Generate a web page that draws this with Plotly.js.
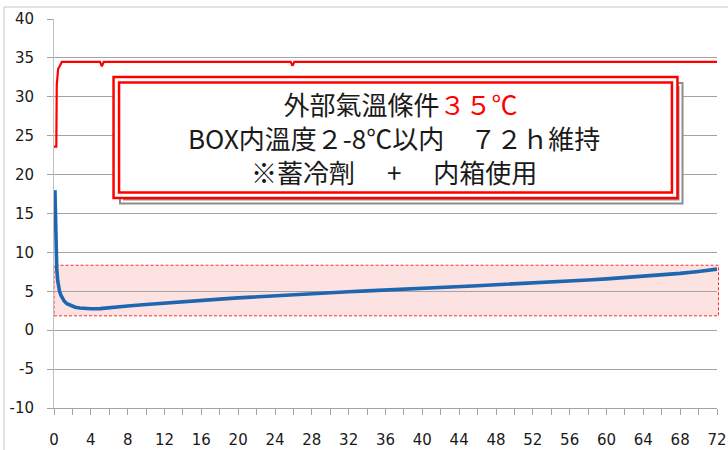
<!DOCTYPE html>
<html>
<head>
<meta charset="utf-8">
<script src="https://cdn.plot.ly/plotly-3.0.1.min.js"></script>
<style>html,body{margin:0;padding:0;background:#fff;}#chart{width:728px;height:450px;}</style>
</head>
<body>
<div id="chart"></div>
<script>
// ---- data ----
var outsideHours = [0, 0.25, 0.3, 0.45, 0.6, 0.85, 5.0, 5.2, 5.4, 25.7, 25.9, 26.1, 72];
var outsideTemp  = [23.6, 23.6, 31.5, 33.6, 33.9, 34.5, 34.5, 33.9, 34.5, 34.5, 34.0, 34.5, 34.5];

var boxHours = [0.1, 0.15, 0.22, 0.3, 0.4, 0.5, 0.6, 0.75, 0.9, 1.1, 1.4, 1.8, 2.3, 2.8, 3.5, 4, 5, 6, 7, 8, 10, 12, 14, 16, 18, 20, 22, 24, 26, 28, 30, 32, 34, 36, 38, 40, 42, 44, 45.5, 46, 48, 50, 52, 54, 56, 58, 60, 62, 64, 66, 68, 70, 72];
var boxTemp  = [18.0, 14.0, 10.0, 7.8, 6.4, 5.6, 5.0, 4.5, 4.1, 3.75, 3.4, 3.15, 2.95, 2.85, 2.78, 2.75, 2.77, 2.85, 2.95, 3.1, 3.3, 3.5, 3.65, 3.85, 4.0, 4.15, 4.3, 4.45, 4.6, 4.7, 4.85, 4.95, 5.05, 5.15, 5.25, 5.35, 5.45, 5.55, 5.6, 5.72, 5.85, 5.95, 6.05, 6.15, 6.3, 6.45, 6.6, 6.75, 6.9, 7.05, 7.3, 7.55, 7.85];

var targetBand = [1.85, 8.35];   // 2-8℃ band (drawn)
var yTickVals  = [-10, -5, 0, 5, 10, 15, 20, 25, 30, 35, 40];
var xTickVals  = [0, 4, 8, 12, 16, 20, 24, 28, 32, 36, 40, 44, 48, 52, 56, 60, 64, 68, 72];

var line1 = '\u2002外部氣溫條件<span style="color:#ff0000">３５℃</span>';
var line2 = 'BOX内溫度２-8℃以内　７２ｈ維持';
var line3 = '※蓄冷劑　 +　 内箱使用';

// ---- layout helpers ----
var W = 728, H = 450, ML = 54, MR = 11, MT = 19, MB = 42;
var PW = W - ML - MR, PH = H - MT - MB;
function px(x){ return (x - ML) / PW; }
function py(y){ return (H - MB - y) / PH; }
var yMin = -10, yMax = 40;
function vy(v){ return (v - yMin) / (yMax - yMin); }

var gridCol = '#a3a3a3';
var tickFont = {family: 'DejaVu Sans', size: 15, color: '#1a1a1a'};

var traces = [
  {x: boxHours, y: boxTemp, type: 'scatter', mode: 'lines',
   line: {color: '#1f66b0', width: 3.6}, hoverinfo: 'skip'},
  {x: outsideHours, y: outsideTemp, type: 'scatter', mode: 'lines',
   line: {color: '#ff0000', width: 2.2}, hoverinfo: 'skip'}
];

var shapes = [
  // chart frame
  {type: 'rect', xref: 'paper', yref: 'paper', x0: px(4), x1: px(760), y0: py(7), y1: py(470),
   line: {color: '#c4c4c4', width: 1}, layer: 'below'},
  // target band
  {type: 'rect', xref: 'paper', yref: 'paper', x0: 0, x1: px(718.5), y0: vy(targetBand[0]), y1: vy(targetBand[1]),
   fillcolor: '#fde2e2', line: {color: '#ff2a2a', width: 1, dash: '3px,2px'}, layer: 'below'},
  // shadow (double gray)
  {type: 'rect', xref: 'paper', yref: 'paper', x0: px(122), x1: px(680.5), y0: py(85), y1: py(201.5),
   line: {color: '#8c8c8c', width: 6}},
  {type: 'rect', xref: 'paper', yref: 'paper', x0: px(122), x1: px(680.5), y0: py(85), y1: py(201.5),
   line: {color: '#ffffff', width: 2}},
  // red double box
  {type: 'rect', xref: 'paper', yref: 'paper', x0: px(116.3), x1: px(674.7), y0: py(79.7), y1: py(195.3),
   fillcolor: '#ffffff', line: {color: '#ff0000', width: 8}},
  {type: 'rect', xref: 'paper', yref: 'paper', x0: px(116.3), x1: px(674.7), y0: py(79.7), y1: py(195.3),
   line: {color: '#ffffff', width: 3}}
];

var boxFont = {family: 'Noto Sans CJK JP', size: 26, color: '#1a1a1a'};
var annotations = [
  {text: line1 + '<br>' + line2 + '<br>' + line3, x: px(394), y: py(137), xref: 'paper', yref: 'paper',
   showarrow: false, xanchor: 'center', yanchor: 'middle', align: 'center', font: boxFont}
];

var layout = {
  width: W, height: H,
  margin: {l: ML, r: MR, t: MT, b: MB, pad: 0},
  paper_bgcolor: '#ffffff', plot_bgcolor: 'rgba(0,0,0,0)',
  showlegend: false,
  xaxis: {range: [0, 72], tickmode: 'array', tickvals: xTickVals, ticktext: xTickVals.map(String),
          showgrid: false, zeroline: false, showline: true, linecolor: gridCol, linewidth: 1,
          ticks: 'outside', ticklen: 6, tickcolor: gridCol, tickwidth: 1,
          minor: {dtick: 2, ticks: 'outside', ticklen: 6, tickcolor: gridCol, showgrid: false},
          tickfont: tickFont, ticklabelstandoff: 12, fixedrange: true},
  yaxis: {range: [yMin, yMax], tickmode: 'array', tickvals: yTickVals, ticktext: yTickVals.map(String),
          showgrid: true, gridcolor: gridCol, gridwidth: 1, zeroline: false,
          showline: true, linecolor: '#c0c0c0', linewidth: 1,
          ticks: 'outside', ticklen: 6, tickcolor: gridCol, tickwidth: 1,
          tickfont: tickFont, ticklabelstandoff: 10, fixedrange: true},
  shapes: shapes,
  annotations: annotations
};

Plotly.newPlot('chart', traces, layout, {staticPlot: true, displayModeBar: false});
</script>
</body>
</html>
